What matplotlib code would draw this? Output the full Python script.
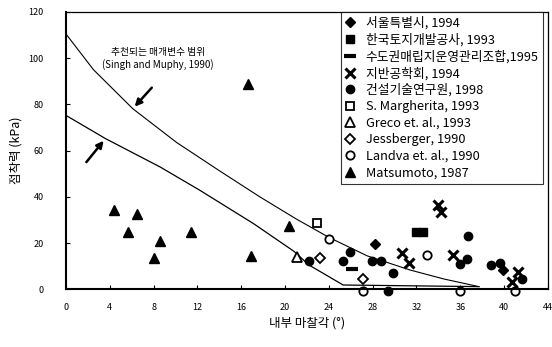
import numpy as np
import matplotlib
matplotlib.use("Agg")
import matplotlib.pyplot as plt

plt.rcParams['font.family'] = ['Noto Sans CJK KR', 'DejaVu Sans']

# 데이터 (내부 마찰각, 점착력)
seoul_x = [28.2, 39.9]
seoul_y = [19.5, 8.4]
korea_land_x = [32.0, 32.6]
korea_land_y = [24.7, 24.7]
sudo_x = [26.1]
sudo_y = [8.7]
geotech_x = [34.0, 34.2, 30.7, 31.3, 35.3, 41.3, 40.7]
geotech_y = [36.5, 33.5, 15.6, 11.3, 15.0, 7.7, 3.4]
kict_x = [22.2, 25.9, 25.3, 27.9, 28.8, 29.9, 29.4, 36.7, 36.0, 36.6, 38.8, 39.6, 41.6]
kict_y = [12.4, 16.0, 12.4, 12.3, 12.3, 7.2, -0.5, 23.2, 11.0, 13.0, 10.6, 11.3, 4.5]
margherita_x = [22.9]
margherita_y = [28.8]
greco_x = [21.1]
greco_y = [14.1]
jess_x = [23.2, 27.1]
jess_y = [13.7, 4.5]
landva_x = [24.0, 33.0, 27.1, 36.0, 41.0]
landva_y = [21.6, 14.9, -0.5, -0.5, -0.5]
matsu_x = [4.4, 6.5, 5.7, 11.4, 8.6, 8.0, 16.9, 16.6, 20.4]
matsu_y = [34.3, 32.5, 24.7, 24.7, 21.0, 13.7, 14.4, 88.6, 27.4]

# 추천 범위 경계선
upper_x = [0, 2.5, 6.1, 10.1, 14.1, 17.7, 21.0, 24.0, 27.5, 31.4, 34.5, 37.7]
upper_y = [110.4, 95.0, 78.1, 63.5, 51.0, 40.0, 30.5, 22.5, 14.5, 8.4, 4.5, 1.2]
lower_x = [0, 3.6, 8.6, 12.2, 17.1, 20.8, 22.2, 25.3, 37.7]
lower_y = [75.2, 65.2, 52.9, 42.9, 28.5, 16.5, 10.5, 1.9, 1.2]

fig = plt.figure(figsize=(5.52, 3.47), dpi=100)
ax = fig.add_axes([0.1196, 0.166, 0.873, 0.8])

ax.plot(upper_x, upper_y, color='k', linewidth=0.8)
ax.plot(lower_x, lower_y, color='k', linewidth=0.9)

kw = dict(linestyle='none', color='k', clip_on=False)
ax.plot(seoul_x, seoul_y, marker='D', markersize=5, label='서울특별시, 1994', **kw)
ax.plot(korea_land_x, korea_land_y, marker='s', markersize=6, label='한국토지개발공사, 1993', **kw)
ax.plot(sudo_x, sudo_y, marker='_', markersize=8, markeredgewidth=3,
        label='수도권매립지운영관리조합,1995', **kw)
ax.plot(geotech_x, geotech_y, marker='x', markersize=7, markeredgewidth=2.2,
        label='지반공학회, 1994', **kw)
ax.plot(kict_x, kict_y, marker='o', markersize=6, label='건설기술연구원, 1998', **kw)
ax.plot(margherita_x, margherita_y, marker='s', markersize=6, markerfacecolor='white',
        markeredgewidth=1.3, label='S. Margherita, 1993', **kw)
ax.plot(greco_x, greco_y, marker='^', markersize=7, markerfacecolor='white',
        markeredgewidth=1.3, label='Greco et. al., 1993', **kw)
ax.plot(jess_x, jess_y, marker='D', markersize=5, markerfacecolor='white',
        markeredgewidth=1.3, label='Jessberger, 1990', **kw)
ax.plot(landva_x, landva_y, marker='o', markersize=6, markerfacecolor='white',
        markeredgewidth=1.3, label='Landva et. al., 1990', **kw)
ax.plot(matsu_x, matsu_y, marker='^', markersize=7, label='Matsumoto, 1987', **kw)

# 화살표 및 설명
ax.annotate('', xy=(6.1, 78.1), xytext=(8.0, 88.1),
            arrowprops=dict(arrowstyle='-|>', color='k', linewidth=1.8, mutation_scale=10))
ax.annotate('', xy=(3.6, 65.2), xytext=(1.7, 54.1),
            arrowprops=dict(arrowstyle='-|>', color='k', linewidth=1.8, mutation_scale=10))
ax.text(8.4, 102.5, '추천되는 매개변수 범위', ha='center', va='center', fontsize=7)
ax.text(8.4, 97.3, '(Singh and Muphy, 1990)', ha='center', va='center', fontsize=7)

ax.set_xlim(0, 44)
ax.set_ylim(0, 120)
ax.set_xticks(np.arange(0, 45, 4))
ax.set_yticks(np.arange(0, 121, 20))
ax.tick_params(direction='in', length=3, labelsize=6.5, width=0.8)
ax.tick_params(axis='x', pad=10)
ax.tick_params(axis='y', pad=16)
for s in ['left', 'bottom']:
    ax.spines[s].set_linewidth(1.5)
for s in ['top', 'right']:
    ax.spines[s].set_linewidth(0.9)

ax.set_xlabel('내부 마찰각 (°)', fontsize=9, labelpad=3)
ax.set_ylabel('점착력 (kPa)', fontsize=9, labelpad=4)

leg = ax.legend(loc='upper right', bbox_to_anchor=(0.99, 1.0), fontsize=9.2,
                frameon=True, fancybox=False, edgecolor='k', handlelength=0.8,
                handletextpad=0.8, labelspacing=0.27, borderpad=0.35,
                borderaxespad=0.0, numpoints=1)
leg.get_frame().set_linewidth(0.8)

fig.savefig('out.png', dpi=100)
